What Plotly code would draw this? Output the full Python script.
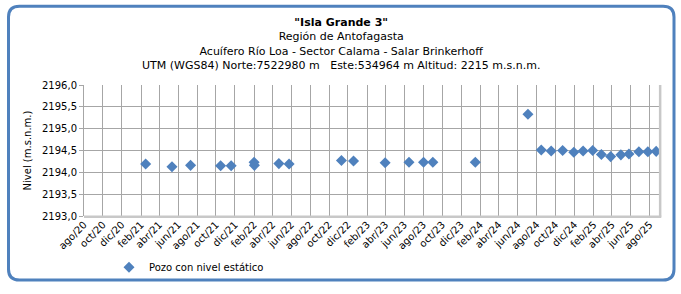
import plotly.graph_objects as go
import pandas as pd

# ---- data ----
fechas = [
    "2021-02-16", "2021-05-12", "2021-07-11", "2021-10-16", "2021-11-19",
    "2022-02-01", "2022-02-02", "2022-04-22", "2022-05-25", "2022-11-10",
    "2022-12-19", "2023-03-31", "2023-06-16", "2023-08-02", "2023-09-01",
    "2024-01-16", "2024-07-04", "2024-08-16", "2024-09-17", "2024-10-24",
    "2024-11-29", "2024-12-29", "2025-01-29", "2025-02-26", "2025-03-28",
    "2025-04-30", "2025-05-26", "2025-06-27", "2025-07-26", "2025-08-22",
]
niveles = [
    2194.19, 2194.13, 2194.16, 2194.15, 2194.15,
    2194.23, 2194.16, 2194.20, 2194.19, 2194.27,
    2194.26, 2194.22, 2194.23, 2194.23, 2194.23,
    2194.23, 2195.33, 2194.51, 2194.49, 2194.50,
    2194.46, 2194.49, 2194.50, 2194.41, 2194.36,
    2194.40, 2194.42, 2194.47, 2194.47, 2194.48,
]
tick_fechas = list(pd.date_range("2020-08-01", "2025-08-01", freq="2MS").strftime("%Y-%m-%d"))
meses_es = {1: "ene", 2: "feb", 3: "mar", 4: "abr", 5: "may", 6: "jun",
            7: "jul", 8: "ago", 9: "sep", 10: "oct", 11: "nov", 12: "dic"}
tick_textos = [f"{meses_es[int(d[5:7])]}/{d[2:4]}" for d in tick_fechas]
y_ticks = [2193.0, 2193.5, 2194.0, 2194.5, 2195.0, 2195.5, 2196.0]

titulo = ('<b>"Isla Grande 3"</b><br>Región de Antofagasta<br>'
          'Acuífero Río Loa - Sector Calama - Salar Brinkerhoff<br>'
          'UTM (WGS84) Norte:7522980 m   Este:534964 m Altitud: 2215 m.s.n.m.')
serie_nombre = "Pozo con nivel estático"

# ---- layout geometry (pixels) ----
W, H = 681, 294
L, R, T, B = 84, 659, 85, 218
FONT = "Verdana, DejaVu Sans, sans-serif"

def px(x):
    return (x - L) / (R - L)

def py(y):
    return (B - y) / (B - T)

fig = go.Figure()
fig.add_trace(go.Scatter(
    x=fechas, y=niveles, mode="markers", name=serie_nombre,
    marker=dict(symbol="diamond", size=8.5, color="#4f81bd"),
))

# outer rounded border
x0, x1, y0, y1, r = 8.5, 674, 5, 283, 11
path = (f"M {px(x0+r)},{py(y0)} L {px(x1-r)},{py(y0)} "
        f"Q {px(x1)},{py(y0)} {px(x1)},{py(y0+r)} L {px(x1)},{py(y1-r)} "
        f"Q {px(x1)},{py(y1)} {px(x1-r)},{py(y1)} L {px(x0+r)},{py(y1)} "
        f"Q {px(x0)},{py(y1)} {px(x0)},{py(y1-r)} L {px(x0)},{py(y0+r)} "
        f"Q {px(x0)},{py(y0)} {px(x0+r)},{py(y0)} Z")
shapes = [
    dict(type="path", xref="paper", yref="paper", path=path,
         line=dict(color="#4f81bd", width=3), layer="below"),
    # light gray right/bottom frame
    dict(type="line", xref="paper", yref="paper", x0=1.002, x1=1.002, y0=-0.006, y1=1,
         line=dict(color="#c8c8c8", width=2.5)),
    dict(type="line", xref="paper", yref="paper", x0=0, x1=1.004, y0=-0.006, y1=-0.006,
         line=dict(color="#c8c8c8", width=2.5)),
]

fig.update_layout(
    width=W, height=H,
    margin=dict(l=L, r=W - R, t=T, b=H - B),
    paper_bgcolor="white", plot_bgcolor="white",
    separators=",.",
    font=dict(family=FONT, size=11, color="#000000"),
    showlegend=True,
    legend=dict(x=px(109), y=py(270), xanchor="left", yanchor="middle",
                font=dict(family=FONT, size=10), bgcolor="rgba(0,0,0,0)",
                itemwidth=30),
    shapes=shapes,
    annotations=[dict(text=titulo, xref="paper", yref="paper",
                      x=px(340.5), y=py(13), xanchor="center", yanchor="top",
                      showarrow=False, align="center",
                      font=dict(family=FONT, size=11, color="#000000"))],
)
fig.update_xaxes(
    type="date", range=["2020-08-01", "2025-08-31"],
    tickvals=tick_fechas, ticktext=tick_textos, tickangle=-45,
    tickfont=dict(family=FONT, size=10),
    showgrid=True, gridcolor="#a6a6a6", gridwidth=1,
    showline=False, zeroline=False, ticks="",
)
fig.update_yaxes(
    range=[2193.0, 2196.0], tickvals=y_ticks, tickformat=".1f",
    tickfont=dict(family=FONT, size=10),
    showgrid=True, gridcolor="#a6a6a6", gridwidth=1,
    showline=True, linecolor="#a6a6a6", linewidth=1,
    ticks="outside", ticklen=4, tickcolor="#a6a6a6",
    zeroline=False,
    title=dict(text="Nivel (m.s.n.m.)", font=dict(family=FONT, size=10), standoff=8),
)

fig.write_html("out.html")
